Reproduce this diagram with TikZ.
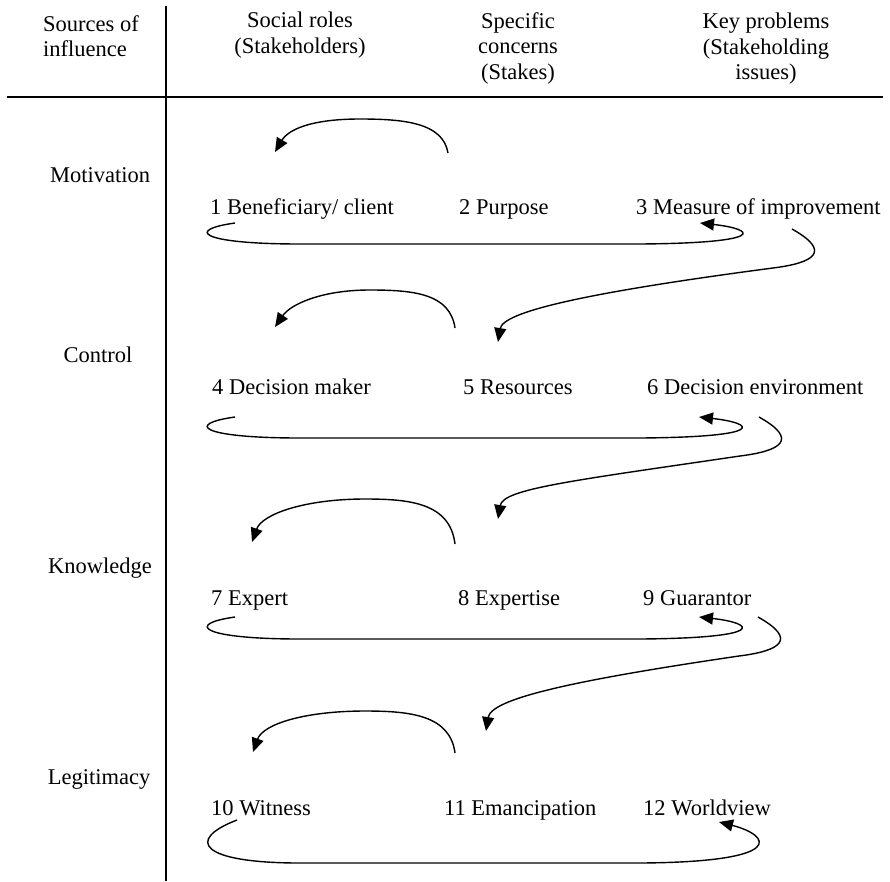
\documentclass[tikz,border=0pt]{standalone}
\usepackage{fontspec}
\setmainfont{Liberation Serif}
\usetikzlibrary{arrows.meta,calc}

\begin{document}
\begin{tikzpicture}[x=1pt,y=-1pt,
  every node/.style={inner sep=0pt,font=\fontsize{22.5}{25.5}\selectfont},
  item/.style={anchor=base west},
  source/.style={anchor=base},
  head/.style={anchor=north,align=center},
  rule/.style={line width=1.6pt},
  flow/.style={line width=1.4pt,-{Triangle[length=14pt,width=12pt]}}]
\useasboundingbox (0,0) rectangle (890,881);

% table rules
\draw [rule] (166,6) -- (166,881);
\draw [rule] (7,97) -- (883,97);

% column heads
\node [head,anchor=north west,align=left] (hsource) at (43,15) {Sources of\\influence};
\node [head] (hrole) at (300,12) {Social roles\\(Stakeholders)};
\node [head] (hstake) at (518,12) {Specific\\concerns\\(Stakes)};
\node [head] (hissue) at (766,13) {Key problems\\(Stakeholding\\issues)};

% sources of influence
\node [source] (motiv) at (100,182) {Motivation};
\node [source] (contr) at (98,362) {Control};
\node [source] (knowl) at (100,573) {Knowledge};
\node [source] (legit) at (99,784) {Legitimacy};

% boundary categories
\node [item] (n1) at (210,214) {1 Beneficiary/ client};
\node [item] (n2) at (459,214) {2 Purpose};
\node [item] (n3) at (636,214) {3 Measure of improvement};
\node [item] (n4) at (212,394) {4 Decision maker};
\node [item] (n5) at (463,394) {5 Resources};
\node [item] (n6) at (647,394) {6 Decision environment};
\node [item] (n7) at (211,605) {7 Expert};
\node [item] (n8) at (458,605) {8 Expertise};
\node [item] (n9) at (643,605) {9 Guarantor};
\node [item] (n10) at (211,815) {10 Witness};
\node [item] (n11) at (444,815) {11 Emancipation};
\node [item] (n12) at (643,815) {12 Worldview};

% motivation
\draw [flow] ($(n2.base west)+(-11,-61)$) .. controls +(-5,-30) and +(45,0) .. ($(n2.base west)+(-99,-95)$)
  .. controls +(-50,0) and +(13,-22) .. ($(n1.base west)+(65,-62)$);
\draw [flow] ($(n1.base west)+(25,9)$) .. controls +(-50,7) and +(-100,0) .. ($(n1.base west)+(90,30)$)
  -- ($(n3.base west)+(4,30)$) .. controls +(130,-1) and +(55,6) .. ($(n3.base west)+(64,9)$);
\draw [flow] ($(n3.base west)+(156,15)$) .. controls +(41,23) and +(40,-5) .. ($(n3.base west)+(137,54)$)
  .. controls +(-190,25) and +(5,-30) .. ($(n5.base west)+(35,-52)$);

% control
\draw [flow] ($(n5.base west)+(-8,-66)$) .. controls +(-5,-34) and +(45,0) .. ($(n5.base west)+(-93,-104)$)
  .. controls +(-50,0) and +(15,-22) .. ($(n4.base west)+(63,-67)$);
\draw [flow] ($(n4.base west)+(23,23)$) .. controls +(-50,7) and +(-100,0) .. ($(n4.base west)+(88,44)$)
  -- ($(n6.base west)+(-7,44)$) .. controls +(130,-1) and +(55,6) .. ($(n6.base west)+(52,23)$);
\draw [flow] ($(n6.base west)+(112,23)$) .. controls +(41,23) and +(40,-5) .. ($(n6.base west)+(93,62)$)
  .. controls +(-170,25) and +(5,-30) .. ($(n8.base west)+(40,-86)$);

% knowledge
\draw [flow] ($(n8.base west)+(-3,-61)$) .. controls +(-5,-41) and +(45,0) .. ($(n8.base west)+(-93,-106)$)
  .. controls +(-60,0) and +(10,-28) .. ($(n7.base west)+(41,-63)$);
\draw [flow] ($(n7.base west)+(24,12)$) .. controls +(-50,7) and +(-100,0) .. ($(n7.base west)+(89,34)$)
  -- ($(n9.base west)+(-3,34)$) .. controls +(130,-1) and +(55,6) .. ($(n9.base west)+(56,12)$);
\draw [flow] ($(n9.base west)+(115,12)$) .. controls +(41,23) and +(40,-5) .. ($(n9.base west)+(96,51)$)
  .. controls +(-170,25) and +(5,-32) .. ($(n11.base west)+(42,-84)$);

% legitimacy
\draw [flow] ($(n11.base west)+(11,-62)$) .. controls +(-5,-38) and +(45,0) .. ($(n11.base west)+(-79,-104)$)
  .. controls +(-60,0) and +(10,-28) .. ($(n10.base west)+(42,-63)$);
\draw [flow] ($(n10.base west)+(26,5)$) .. controls +(-52,20) and +(-100,0) .. ($(n10.base west)+(89,48)$)
  -- ($(n12.base west)+(-3,48)$) .. controls +(150,-1) and +(51,13) .. ($(n12.base west)+(76,7)$);
\end{tikzpicture}
\end{document}
